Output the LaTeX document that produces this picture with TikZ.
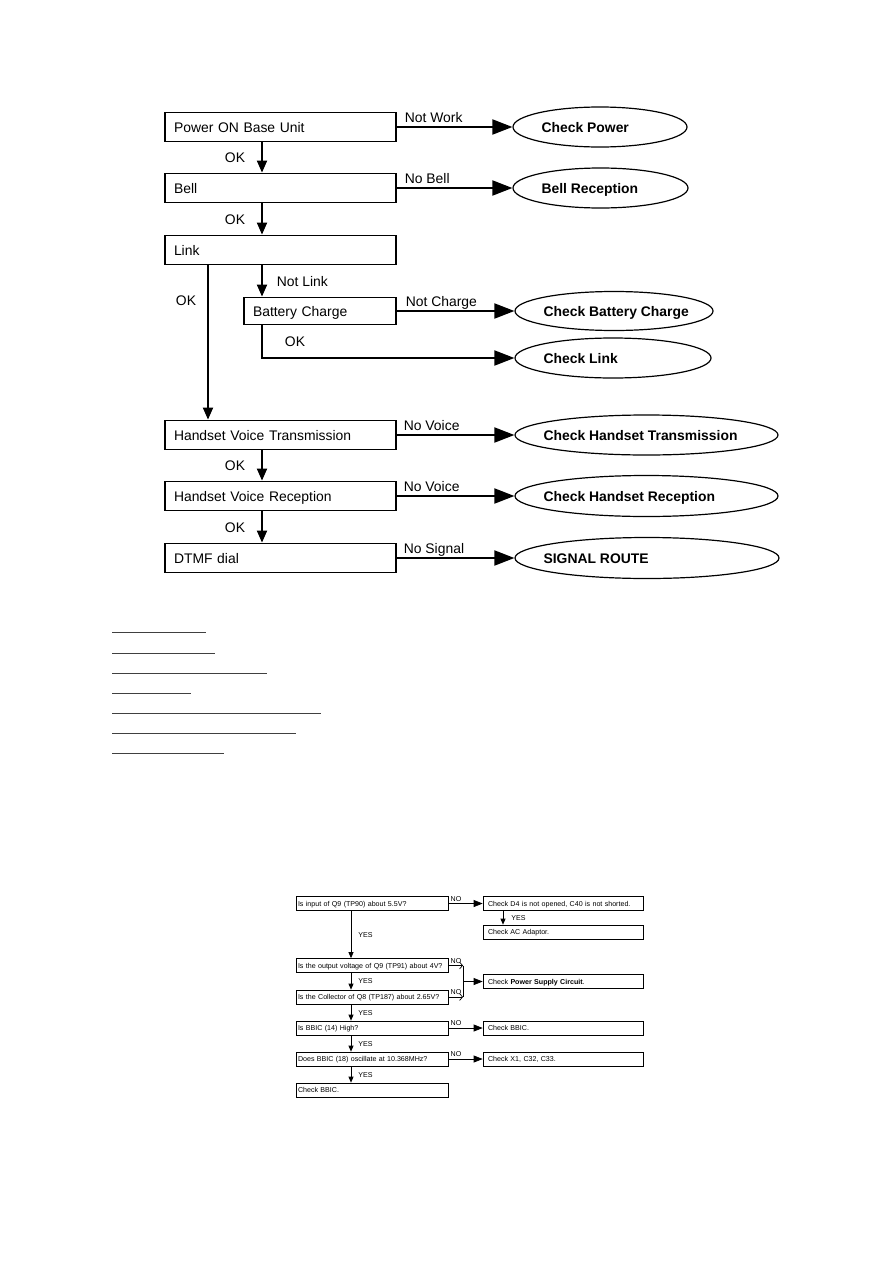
\documentclass[tikz,border=0pt]{standalone}
\usepackage{fontspec}
\setmainfont{Liberation Sans}
\usetikzlibrary{arrows.meta,calc,positioning,shapes.geometric}
\newcommand{\bigchart}{\fontsize{13.9}{16}\selectfont}
\newcommand{\smallchart}{\fontsize{7.1}{8.5}\selectfont}

\begin{document}
\begin{tikzpicture}[x=1pt,y=-1pt,
  box/.style={draw,line width=1.8pt,text width=213pt,inner xsep=9pt,inner ysep=0pt,
    minimum height=29pt,align=left,font=\bigchart,text height=10pt,text depth=0pt},
  oval/.style={ellipse,draw,line width=1.2pt,minimum height=40pt,inner sep=0pt},
  ovaltxt/.style={anchor=west,xshift=29pt,inner sep=0pt,font=\bigchart\bfseries,
    text height=10pt,text depth=0pt},
  lbl/.style={inner sep=0pt,font=\bigchart,text height=10pt,text depth=0pt},
  harr/.style={line width=1.9pt,-{Triangle[length=20pt,width=15pt]}},
  varr/.style={line width=1.9pt,-{Triangle[length=12pt,width=10pt]}},
  qbox/.style={draw,line width=0.7pt,text width=148pt,inner xsep=2pt,inner ysep=0pt,
    minimum height=14pt,align=left,font=\smallchart,text height=5.1pt,text depth=0pt},
  rbox/.style={qbox,text width=150pt,inner xsep=5pt},
  slbl/.style={inner sep=0pt,font=\smallchart,text height=5.1pt,text depth=0pt},
  sharr/.style={line width=0.7pt,-{Triangle[length=9pt,width=7pt]}},
  svarr/.style={line width=0.7pt,-{Triangle[length=6pt,width=5pt]}},
  snoarr/.style={line width=0.7pt,-{Straight Barb[length=3pt,width=7pt]}},
  uline/.style={line width=1pt,black!75}]
  \fill[white] (0,0) rectangle (893,1263);
  \useasboundingbox (0,0) rectangle (893,1263);

  % base unit check
  \node[box] (pwr) at (280.5,127) {Power ON Base Unit};
  \node[box] (bell) at (280.5,188) {Bell};
  \node[box] (link) at (280.5,250) {Link};
  \node[box,text width=134pt,minimum height=27pt] (batt) at (320,311) {Battery Charge};
  \node[box] (hvt) at (280.5,435) {Handset Voice Transmission};
  \node[box] (hvr) at (280.5,496) {Handset Voice Reception};
  \node[box] (dtmf) at (280.5,558) {DTMF dial};

  % ovals on the right
  \node[oval,minimum width=174pt,label={[ovaltxt]west:Check Power}] (chkpwr) at (600,127) {};
  \node[oval,minimum width=175pt,label={[ovaltxt]west:Bell Reception}] (bellrx) at (600.5,188) {};
  \node[oval,minimum width=198pt,minimum height=39pt,label={[ovaltxt]west:Check Battery Charge}] (chkbatt) at (614,311) {};
  \node[oval,minimum width=196pt,label={[ovaltxt]west:Check Link}] (chklink) at (613,358) {};
  \node[oval,minimum width=263pt,label={[ovaltxt]west:Check Handset Transmission}] (chkhtx) at (646.5,435) {};
  \node[oval,minimum width=263pt,minimum height=41pt,label={[ovaltxt]west:Check Handset Reception}] (chkhrx) at (646.5,496) {};
  \node[oval,minimum width=264pt,minimum height=41pt,label={[ovaltxt]west:SIGNAL ROUTE}] (sigroute) at (647,558) {};

  \coordinate (colA) at (262,0);
  \coordinate (colB) at (208,0);

  \draw[harr] (pwr.east) -- node[lbl,pos=0,anchor=south west,xshift=7pt,yshift=4pt] {Not Work} (chkpwr.west);
  \draw[varr] (pwr.south -| colA) -- node[lbl,left=16pt] {OK} (bell.north -| colA);
  \draw[harr] (bell.east) -- node[lbl,pos=0,anchor=south west,xshift=7pt,yshift=4pt] {No Bell} (bellrx.west);
  \draw[varr] (bell.south -| colA) -- node[lbl,left=16pt] {OK} (link.north -| colA);
  \draw[varr] (link.south -| colA) -- node[lbl,right=14pt] {Not Link} (batt.north -| colA);
  \draw[harr] (batt.east) -- node[lbl,pos=0,anchor=south west,xshift=8pt,yshift=4pt] {Not Charge} (chkbatt.west);
  \draw[harr] (batt.south -| colA) |- node[lbl,pos=0.25,right=22pt] {OK} (chklink.west);
  \draw[varr] (link.south -| colB) -- node[lbl,pos=0.23,left=11pt] {OK} (hvt.north -| colB);
  \draw[harr] (hvt.east) -- node[lbl,pos=0,anchor=south west,xshift=6pt,yshift=4pt] {No Voice} (chkhtx.west);
  \draw[varr] (hvt.south -| colA) -- node[lbl,left=16pt] {OK} (hvr.north -| colA);
  \draw[harr] (hvr.east) -- node[lbl,pos=0,anchor=south west,xshift=6pt,yshift=4pt] {No Voice} (chkhrx.west);
  \draw[varr] (hvr.south -| colA) -- node[lbl,left=16pt] {OK} (dtmf.north -| colA);
  \draw[harr] (dtmf.east) -- node[lbl,pos=0,anchor=south west,xshift=6pt,yshift=4pt] {No Signal} (sigroute.west);

  % underlined lines
  \foreach \yy/\xe in {632/206,653/215,673/267,693/191,713/321,733/296,753/224}
    \draw[uline] (112,\yy) -- (\xe,\yy);

  % power supply check
  \node[qbox] (q1) at (372,903.5) {Is input of Q9 (TP90) about 5.5V?};
  \node[rbox] (r1) at (563,903.5) {Check D4 is not opened, C40 is not shorted.};
  \node[rbox] (r2) at (563,932) {Check AC Adaptor.};
  \node[qbox] (q2) at (372,965.5) {Is the output voltage of Q9 (TP91) about 4V?};
  \node[rbox] (r3) at (563,981.5) {Check \textbf{Power Supply Circuit}.};
  \node[qbox] (q3) at (372,997) {Is the Collector of Q8 (TP187) about 2.65V?};
  \node[qbox] (q4) at (372,1028) {Is BBIC (14) High?};
  \node[rbox] (r4) at (563,1028) {Check BBIC.};
  \node[qbox] (q5) at (372,1059) {Does BBIC (18) oscillate at 10.368MHz?};
  \node[rbox] (r5) at (563,1059) {Check X1, C32, C33.};
  \node[qbox] (q6) at (372,1090) {Check BBIC.};

  \coordinate (colC) at (351,0);
  \coordinate (colD) at (503,0);
  \coordinate (mrg) at (463,981.5);

  \draw[sharr] (q1.east) -- node[slbl,pos=0,anchor=south west,xshift=2pt,yshift=2pt] {NO} (r1.west);
  \draw[svarr] (r1.south -| colD) -- node[slbl,right=8pt] {YES} (r2.north -| colD);
  \draw[svarr] (q1.south -| colC) -- node[slbl,right=7pt] {YES} (q2.north -| colC);
  \draw[snoarr] (q2.east) -- node[slbl,pos=0,anchor=south west,xshift=2pt,yshift=2pt] {NO} (mrg |- q2.east);
  \draw[snoarr] (q3.east) -- node[slbl,pos=0,anchor=south west,xshift=2pt,yshift=2pt] {NO} (mrg |- q3.east);
  \draw[line width=0.7pt] (mrg |- q2.east) -- (mrg |- q3.east);
  \draw[sharr] (mrg) -- (r3.west);
  \draw[svarr] (q2.south -| colC) -- node[slbl,right=7pt] {YES} (q3.north -| colC);
  \draw[svarr] (q3.south -| colC) -- node[slbl,right=7pt] {YES} (q4.north -| colC);
  \draw[sharr] (q4.east) -- node[slbl,pos=0,anchor=south west,xshift=2pt,yshift=2pt] {NO} (r4.west);
  \draw[svarr] (q4.south -| colC) -- node[slbl,right=7pt] {YES} (q5.north -| colC);
  \draw[sharr] (q5.east) -- node[slbl,pos=0,anchor=south west,xshift=2pt,yshift=2pt] {NO} (r5.west);
  \draw[svarr] (q5.south -| colC) -- node[slbl,right=7pt] {YES} (q6.north -| colC);
\end{tikzpicture}
\end{document}
